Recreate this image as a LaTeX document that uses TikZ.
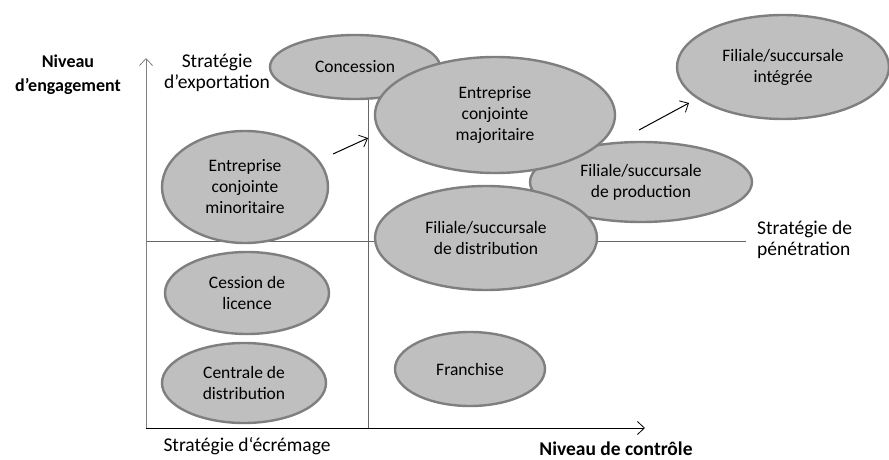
\documentclass[tikz,border=0pt]{standalone}
\usepackage{fontspec}
\setmainfont{Carlito}
\usetikzlibrary{shapes.geometric,arrows.meta}
\definecolor{ovalfill}{HTML}{BFBFBF}
\definecolor{ovalline}{HTML}{7F7F7F}
\definecolor{axisgray}{HTML}{808080}
\tikzset{
  oval/.style={ellipse,draw=ovalline,fill=ovalfill,line width=2.4pt,
    inner sep=0pt,align=center},
  lbl/.style={align=center,inner sep=0pt,font=\fontsize{19.5}{21}\selectfont},
  divider/.style={draw=axisgray!80!black,line width=0.8pt},
  tip/.style={-{Straight Barb[length=7pt,width=13pt,line width=0.8pt]}},
  move/.style={tip,line width=1pt}
}
\begin{document}
\begin{tikzpicture}[x=1pt,y=-1pt,font=\fontsize{17.5}{21}\selectfont]
  \useasboundingbox (0,0) rectangle (889,460);
  % axes and quadrants
  \coordinate (origin) at (146,428);
  \coordinate (ytop) at (146,58);
  \coordinate (xend) at (645,428);
  \coordinate (vtop) at (368,100);
  \coordinate (vbot) at (368,428);
  \coordinate (hleft) at (146,241);
  \coordinate (hright) at (746,241);
  \draw[divider] (vtop) -- (vbot);
  \draw[divider] (hleft) -- (hright);
  \draw[tip,draw=axisgray,line width=0.9pt] (origin) -- (ytop);
  \draw[tip,line width=0.9pt] (origin) -- (xend);
  % modes of entry
  \node[oval,minimum width=170,minimum height=64] (concession) at (355,67) {Concession};
  \node[oval,minimum width=166,minimum height=112] (minor) at (245,187) {Entreprise\\conjointe\\minoritaire};
  \node[oval,minimum width=222,minimum height=80] (prod) at (641,182) {Filiale/succursale\\de production};
  \node[oval,minimum width=240,minimum height=116] (major) at (495,115) {Entreprise\\conjointe\\majoritaire};
  \node[oval,minimum width=212,minimum height=104] (integ) at (783,67) {Filiale/succursale\\intégrée};
  \node[oval,minimum width=222,minimum height=104] (distrib) at (486,238) {Filiale/succursale\\de distribution};
  \node[oval,minimum width=164,minimum height=82] (licence) at (247,293) {Cession de\\licence};
  \node[oval,minimum width=164,minimum height=80] (centrale) at (244,383) {Centrale de\\distribution};
  \node[oval,minimum width=150,minimum height=74] (franchise) at (470,369) {Franchise};
  % transitions
  \coordinate (m1a) at (333,154);
  \coordinate (m1b) at (368,138);
  \coordinate (m2a) at (639,130);
  \coordinate (m2b) at (689,103);
  \draw[move] (m1a) -- (m1b);
  \draw[move] (m2a) -- (m2b);
  % labels
  \node[lbl,font=\fontsize{18}{24}\selectfont\bfseries] (engage) at (68,75) {Niveau\\d’engagement};
  \node[lbl] (export) at (217,73) {Stratégie\\d’exportation};
  \node[lbl,anchor=west,align=left] (penet) at (757,240) {Stratégie de\\pénétration};
  \node[lbl] (ecrem) at (247,446) {Stratégie d‘écrémage};
  \node[lbl,font=\fontsize{19.5}{21}\selectfont\bfseries] (controle) at (616,449) {Niveau de contrôle};
\end{tikzpicture}
\end{document}
